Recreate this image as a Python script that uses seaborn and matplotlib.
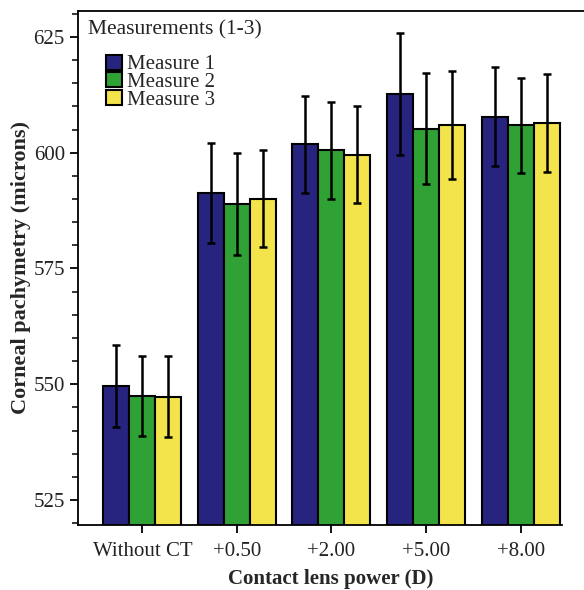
import numpy as np
import pandas as pd
import seaborn as sns
import matplotlib.pyplot as plt
from matplotlib.patches import Patch
from matplotlib.ticker import MultipleLocator

# values (mean and +/- error, microns)
groups = ["Without CT", "+0.50", "+2.00", "+5.00", "+8.00"]
series = ["Measure 1", "Measure 2", "Measure 3"]
m1 = [549.6, 591.3, 601.8, 612.7, 607.8]
m2 = [547.5, 589.0, 600.5, 605.2, 605.9]
m3 = [547.3, 590.1, 599.6, 606.0, 606.4]
e1 = [8.9, 10.9, 10.5, 13.2, 10.7]
e2 = [8.6, 11.0, 10.5, 12.0, 10.3]
e3 = [8.7, 10.5, 10.4, 11.6, 10.6]
colors = ["#27247f", "#30a135", "#f3e44b"]

sns.set_style("ticks")
plt.rcParams["font.family"] = ["Liberation Serif", "DejaVu Serif"]

df = pd.DataFrame({
    "group": groups * 3,
    "measure": np.repeat(series, len(groups)),
    "value": m1 + m2 + m3,
})

fig = plt.figure(figsize=(5.84, 5.90), dpi=100)
ax = fig.add_axes([78 / 584, 65 / 590, 506 / 584, 514 / 590])

sns.barplot(data=df, x="group", y="value", hue="measure", order=groups,
            hue_order=series, palette=colors, width=0.825, errorbar=None,
            edgecolor="black", linewidth=1.5, saturation=1, legend=False, ax=ax)

# error bars on top of each bar
for cont, errs in zip(ax.containers, [e1, e2, e3]):
    xs = [p.get_x() + p.get_width() / 2 for p in cont]
    ys = [p.get_height() for p in cont]
    ax.errorbar(xs, ys, yerr=errs, fmt="none", ecolor="black",
                elinewidth=1.8, capsize=3, capthick=1.8, zorder=5)

ax.set_ylim(519.6, 630.6)
ax.set_xlim(-0.68, 4.67)
ax.yaxis.set_major_locator(MultipleLocator(25))
ax.yaxis.set_minor_locator(MultipleLocator(5))
ax.tick_params(axis="both", which="major", direction="out", length=6, width=1.3,
               labelsize=15, color="black", labelcolor="#222222")
ax.tick_params(axis="x", which="major", pad=6)
ax.tick_params(axis="y", which="minor", direction="out", length=4, width=1.3)
ax.spines["right"].set_visible(False)
ax.spines["bottom"].set_bounds(-0.68, 4.44)
for s in ["left", "top", "bottom"]:
    ax.spines[s].set_linewidth(1.3)
    ax.spines[s].set_color("black")

ax.set_xlabel("Contact lens power (D)", fontsize=15, fontweight="bold", labelpad=6)
ax.set_ylabel("Corneal pachymetry (microns)", fontsize=16, fontweight="bold", labelpad=2)

# legend: title then indented entries
ax.text(0.02, 0.963, "Measurements (1-3)", transform=ax.transAxes,
        fontsize=15.5, va="center", ha="left", color="#222222")
handles = [Patch(facecolor=c, edgecolor="black", linewidth=1.5) for c in colors]
ax.legend(handles, series, loc="upper left", bbox_to_anchor=(0.055, 0.915),
          frameon=False, fontsize=15, handlelength=0.8, handleheight=0.72,
          handletextpad=0.2, labelspacing=-0.1, borderpad=0, borderaxespad=0)

fig.savefig("out.png", dpi=100)
